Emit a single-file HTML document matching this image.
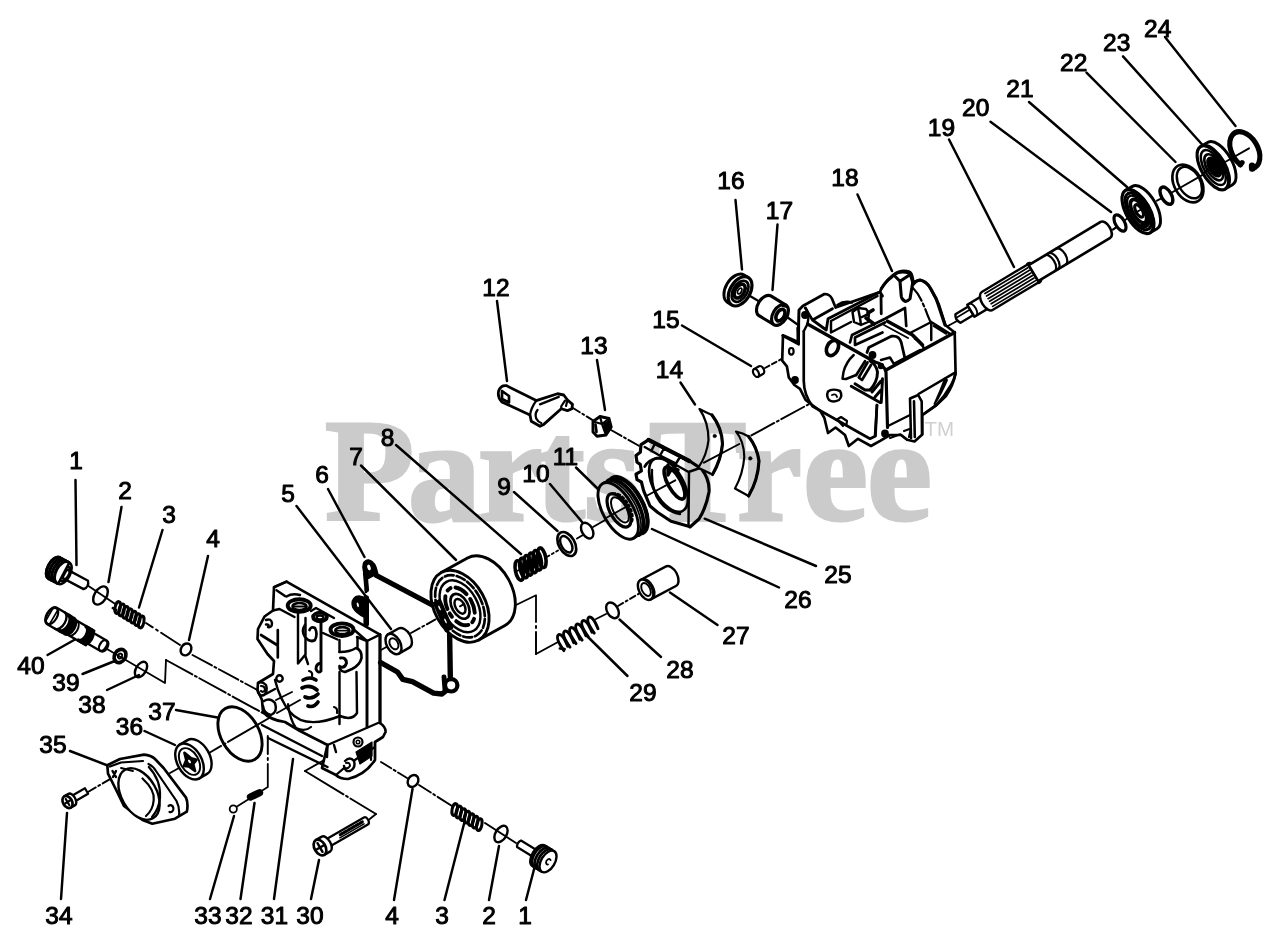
<!DOCTYPE html>
<html><head><meta charset="utf-8"><title>Parts diagram</title>
<style>
html,body{margin:0;padding:0;background:#fff;}
body{width:1280px;height:944px;overflow:hidden;}
svg{display:block;}
.lb{font-family:"Liberation Sans",sans-serif;fill:#000;stroke:#000;stroke-width:1.0px;}
.wm{font-family:"Liberation Serif",serif;font-weight:bold;fill:#cbcbcb;stroke:#cbcbcb;stroke-width:3.2px;stroke-linejoin:miter;}
.tm{font-family:"Liberation Sans",sans-serif;fill:#d0d0d0;}
g.ink *{stroke:#000;stroke-linecap:round;stroke-linejoin:round;}
g.ink text{stroke-linecap:butt;}
</style></head><body>
<svg width="1280" height="944" viewBox="0 0 1280 944">
<rect width="1280" height="944" fill="#fff"/>
<g class="ink">
<text x="76" y="468.9" font-size="24.5" text-anchor="middle" class="lb">1</text>
<text x="125" y="498.9" font-size="24.5" text-anchor="middle" class="lb">2</text>
<text x="169" y="523.4" font-size="24.5" text-anchor="middle" class="lb">3</text>
<text x="213" y="546.9" font-size="24.5" text-anchor="middle" class="lb">4</text>
<text x="288" y="501.9" font-size="24.5" text-anchor="middle" class="lb">5</text>
<text x="322" y="483.4" font-size="24.5" text-anchor="middle" class="lb">6</text>
<text x="356" y="464.9" font-size="24.5" text-anchor="middle" class="lb">7</text>
<text x="387.5" y="445.9" font-size="24.5" text-anchor="middle" class="lb">8</text>
<text x="504" y="494.9" font-size="24.5" text-anchor="middle" class="lb">9</text>
<text x="536" y="481.9" font-size="24.5" text-anchor="middle" class="lb">10</text>
<text x="565.5" y="464.9" font-size="24.5" text-anchor="middle" class="lb">11</text>
<text x="496" y="295.9" font-size="24.5" text-anchor="middle" class="lb">12</text>
<text x="594" y="353.9" font-size="24.5" text-anchor="middle" class="lb">13</text>
<text x="669.5" y="377.9" font-size="24.5" text-anchor="middle" class="lb">14</text>
<text x="666" y="327.9" font-size="24.5" text-anchor="middle" class="lb">15</text>
<text x="731" y="188.9" font-size="24.5" text-anchor="middle" class="lb">16</text>
<text x="779.5" y="218.9" font-size="24.5" text-anchor="middle" class="lb">17</text>
<text x="845" y="186.4" font-size="24.5" text-anchor="middle" class="lb">18</text>
<text x="941.5" y="135.9" font-size="24.5" text-anchor="middle" class="lb">19</text>
<text x="975.7" y="115.9" font-size="24.5" text-anchor="middle" class="lb">20</text>
<text x="1020" y="96.5" font-size="24.5" text-anchor="middle" class="lb">21</text>
<text x="1073.7" y="70.7" font-size="24.5" text-anchor="middle" class="lb">22</text>
<text x="1116.7" y="50.5" font-size="24.5" text-anchor="middle" class="lb">23</text>
<text x="1157.7" y="36.5" font-size="24.5" text-anchor="middle" class="lb">24</text>
<text x="838" y="582.9" font-size="24.5" text-anchor="middle" class="lb">25</text>
<text x="798" y="607.9" font-size="24.5" text-anchor="middle" class="lb">26</text>
<text x="736" y="643.9" font-size="24.5" text-anchor="middle" class="lb">27</text>
<text x="680" y="678.4" font-size="24.5" text-anchor="middle" class="lb">28</text>
<text x="643" y="700.9" font-size="24.5" text-anchor="middle" class="lb">29</text>
<text x="31" y="673.9" font-size="24.5" text-anchor="middle" class="lb">40</text>
<text x="66" y="691.4" font-size="24.5" text-anchor="middle" class="lb">39</text>
<text x="92" y="712.9" font-size="24.5" text-anchor="middle" class="lb">38</text>
<text x="162" y="720.4" font-size="24.5" text-anchor="middle" class="lb">37</text>
<text x="129.5" y="735.4" font-size="24.5" text-anchor="middle" class="lb">36</text>
<text x="53" y="752.9" font-size="24.5" text-anchor="middle" class="lb">35</text>
<text x="59" y="924.4" font-size="24.5" text-anchor="middle" class="lb">34</text>
<text x="208" y="924.4" font-size="24.5" text-anchor="middle" class="lb">33</text>
<text x="239" y="924.4" font-size="24.5" text-anchor="middle" class="lb">32</text>
<text x="274.5" y="924.4" font-size="24.5" text-anchor="middle" class="lb">31</text>
<text x="310" y="924.4" font-size="24.5" text-anchor="middle" class="lb">30</text>
<text x="392" y="924.4" font-size="24.5" text-anchor="middle" class="lb">4</text>
<text x="442" y="924.4" font-size="24.5" text-anchor="middle" class="lb">3</text>
<text x="489" y="924.4" font-size="24.5" text-anchor="middle" class="lb">2</text>
<text x="525" y="924.4" font-size="24.5" text-anchor="middle" class="lb">1</text>
<line x1="75.5" y1="480" x2="76.5" y2="565" stroke-width="2.47" />
<line x1="121.5" y1="507" x2="108.5" y2="582" stroke-width="2.47" />
<line x1="162.5" y1="530" x2="139" y2="607.5" stroke-width="2.47" />
<line x1="208" y1="556" x2="189" y2="640" stroke-width="2.47" />
<line x1="296.5" y1="506" x2="391" y2="629" stroke-width="2.47" />
<line x1="328" y1="489" x2="364.5" y2="557" stroke-width="2.47" />
<line x1="361" y1="465.5" x2="456" y2="560" stroke-width="2.47" />
<line x1="396" y1="445" x2="521" y2="554" stroke-width="2.47" />
<line x1="514" y1="492" x2="557.5" y2="531" stroke-width="2.47" />
<line x1="550" y1="484" x2="582.5" y2="522.5" stroke-width="2.47" />
<line x1="576" y1="467.5" x2="599" y2="490" stroke-width="2.47" />
<line x1="497" y1="301" x2="507" y2="381" stroke-width="2.47" />
<line x1="597" y1="360" x2="605" y2="410" stroke-width="2.47" />
<line x1="680.5" y1="382.5" x2="695" y2="404.5" stroke-width="2.47" />
<line x1="682" y1="325.5" x2="751" y2="366" stroke-width="2.47" />
<line x1="735.5" y1="200" x2="742" y2="269.5" stroke-width="2.47" />
<line x1="777.5" y1="224.5" x2="772.5" y2="290" stroke-width="2.47" />
<line x1="857.5" y1="194.5" x2="892" y2="271" stroke-width="2.47" />
<line x1="949" y1="139.5" x2="1014" y2="267" stroke-width="2.47" />
<line x1="990.5" y1="121.7" x2="1111" y2="212" stroke-width="2.47" />
<line x1="1029" y1="102" x2="1127" y2="187" stroke-width="2.47" />
<line x1="1086.5" y1="72.7" x2="1175.5" y2="162" stroke-width="2.47" />
<line x1="1123" y1="56.4" x2="1203" y2="145.5" stroke-width="2.47" />
<line x1="1165" y1="37" x2="1235.5" y2="126" stroke-width="2.47" />
<line x1="816" y1="566" x2="704.7" y2="518.7" stroke-width="2.47" />
<line x1="779" y1="587.5" x2="652" y2="529" stroke-width="2.47" />
<line x1="717.5" y1="625" x2="670" y2="592.5" stroke-width="2.47" />
<line x1="661" y1="657" x2="619.5" y2="619.5" stroke-width="2.47" />
<line x1="627.5" y1="676" x2="586" y2="635" stroke-width="2.47" />
<line x1="47.5" y1="655" x2="75" y2="639.5" stroke-width="2.47" />
<line x1="82.5" y1="674" x2="116" y2="660.5" stroke-width="2.47" />
<line x1="107" y1="690" x2="139" y2="675" stroke-width="2.47" />
<line x1="176" y1="710" x2="217.5" y2="717.5" stroke-width="2.47" />
<line x1="144.5" y1="731" x2="175" y2="745" stroke-width="2.47" />
<line x1="70" y1="751" x2="109" y2="766" stroke-width="2.47" />
<line x1="67" y1="813" x2="61" y2="899" stroke-width="2.47" />
<line x1="234" y1="816" x2="210" y2="899" stroke-width="2.47" />
<line x1="254.5" y1="803" x2="240.5" y2="899" stroke-width="2.47" />
<line x1="293" y1="759" x2="274" y2="899" stroke-width="2.47" />
<line x1="319" y1="860" x2="311" y2="899" stroke-width="2.47" />
<line x1="412.5" y1="789" x2="394" y2="900" stroke-width="2.47" />
<line x1="465" y1="820" x2="444.5" y2="900" stroke-width="2.47" />
<line x1="499" y1="846" x2="489" y2="900" stroke-width="2.47" />
<line x1="534.5" y1="867.5" x2="526" y2="900" stroke-width="2.47" />
<line x1="87" y1="585" x2="114.5" y2="603.5" stroke-width="1.95" />
<path d="M146 623 L180 645" stroke-width="1.95" fill="none" stroke-dasharray="8 4 2 4 40"/>
<path d="M192.5 655 L262 692.5" stroke-width="1.95" fill="none" stroke-dasharray="22 3 2 3"/>
<path d="M107 649 L165 683 L166 660" stroke-width="1.83" fill="none" />
<path d="M166 660 L270 717" stroke-width="1.95" fill="none" stroke-dasharray="30 3 2 3"/>
<path d="M88 792 L112 778" stroke-width="1.95" fill="none" stroke-dasharray="9 3 2 3"/>
<line x1="170" y1="773" x2="179" y2="768" stroke-width="1.95" />
<path d="M209 753 L300 700" stroke-width="1.95" fill="none" stroke-dasharray="14 3 2 3 60 3 2 3"/>
<path d="M237 806.5 L267.8 787 L267.8 764" stroke-width="1.83" fill="none" />
<path d="M267.8 760 L267.8 736" stroke-width="1.95" fill="none" stroke-dasharray="2 4 20"/>
<path d="M381 762 L407 778" stroke-width="1.95" fill="none" stroke-dasharray="12 3 2 3"/>
<path d="M419 785 L452 806" stroke-width="1.95" fill="none" stroke-dasharray="14 3 2 3 30"/>
<line x1="485" y1="823" x2="516" y2="843" stroke-width="1.95" />
<path d="M366 822 L376 814" stroke-width="1.83" fill="none" />
<path d="M376 814 L305 771" stroke-width="1.95" fill="none" stroke-dasharray="30 3 2 3 60"/>
<line x1="305" y1="771" x2="342" y2="750" stroke-width="1.95" />
<g transform="translate(54 568) rotate(28)">
<path d="M12 -4.8 L36 -4.8 Q40 0 36 4.8 L12 4.8 Z" stroke-width="2.32" fill="#fff" />
<path d="M0 -12 L11 -12 L11 12 L0 12 A6.5 12 0 0 1 0 -12 Z" stroke-width="2.44" fill="#fff" />
<path d="M0.5 -12 A6.5 12 0 0 0 0.5 12" stroke-width="3.17" fill="none" />
<path d="M3.5 -12 A6.5 12 0 0 0 3.5 12" stroke-width="3.17" fill="none" />
<path d="M6.5 -12 A6.5 12 0 0 0 6.5 12" stroke-width="3.17" fill="none" />
<path d="M9.5 -12 A6.5 12 0 0 0 9.5 12" stroke-width="3.17" fill="none" />
<path d="M11 -12 A6.5 12 0 0 1 11 12" stroke-width="2.44" fill="none" />
<path d="M12 -8 A4.5 8 0 0 1 12 8" stroke-width="2.93" fill="none" />
</g>
<ellipse cx="100.5" cy="595.5" rx="6" ry="10" transform="rotate(31.5 100.5 595.5)" stroke-width="2.44" fill="none" />
<g transform="translate(116 606.5) rotate(31.5)">
<path d="M-2 3 L2 3" stroke-width="2.44" fill="none" />
<ellipse cx="2.0" cy="0" rx="2.6" ry="6" stroke-width="3" fill="none" transform="rotate(-20 2.0 0)"/>
<ellipse cx="6.6" cy="0" rx="2.6" ry="6" stroke-width="3" fill="none" transform="rotate(-20 6.6 0)"/>
<ellipse cx="11.2" cy="0" rx="2.6" ry="6" stroke-width="3" fill="none" transform="rotate(-20 11.2 0)"/>
<ellipse cx="15.799999999999999" cy="0" rx="2.6" ry="6" stroke-width="3" fill="none" transform="rotate(-20 15.799999999999999 0)"/>
<ellipse cx="20.4" cy="0" rx="2.6" ry="6" stroke-width="3" fill="none" transform="rotate(-20 20.4 0)"/>
<ellipse cx="25.0" cy="0" rx="2.6" ry="6" stroke-width="3" fill="none" transform="rotate(-20 25.0 0)"/>
<ellipse cx="29.599999999999998" cy="0" rx="2.6" ry="6" stroke-width="3" fill="none" transform="rotate(-20 29.599999999999998 0)"/>
</g>
<ellipse cx="186" cy="649.4" rx="5" ry="6.3" transform="rotate(31.5 186 649.4)" stroke-width="2.44" fill="none" />
<g transform="translate(52 616) rotate(30)">
<path d="M0 -9.5 L16 -9.5 L16 -8.3 L44 -8.3 L44 -6 L60 -6 A3.6 6 0 0 1 60 6 L44 6 L44 8.3 L16 8.3 L16 9.5 L0 9.5 A5.5 9.5 0 0 1 0 -9.5 Z" stroke-width="2.44" fill="#fff" />
<ellipse cx="0" cy="0" rx="5" ry="9" stroke-width="2.2" fill="none" />
<path d="M-3 -7 L-3 7 M2 -8 L2 8" stroke-width="1.71" fill="none" />
<path d="M9 -9.5 A5.5 9.5 0 0 1 9 9.5" stroke-width="2.44" fill="none" />
<path d="M14 -8.8 A5 8.8 0 0 1 14 8.8" stroke-width="3.66" fill="none" />
<path d="M17 -8.8 A5 8.8 0 0 1 17 8.8" stroke-width="3.66" fill="none" />
<path d="M20 -8.8 A5 8.8 0 0 1 20 8.8" stroke-width="3.66" fill="none" />
<path d="M24 -8.3 A5 8.3 0 0 1 24 8.3" stroke-width="1.95" fill="none" />
<path d="M35 -7.8 A4.5 7.8 0 0 1 35 7.8" stroke-width="3.66" fill="none" />
<path d="M38 -7.8 A4.5 7.8 0 0 1 38 7.8" stroke-width="3.66" fill="none" />
<path d="M41 -7.8 A4.5 7.8 0 0 1 41 7.8" stroke-width="3.66" fill="none" />
<ellipse cx="59" cy="0" rx="3.3" ry="5.8" stroke-width="2.2" fill="#fff" />
</g>
<ellipse cx="120" cy="656" rx="5.5" ry="7" transform="rotate(31.5 120 656)" stroke-width="3.66" fill="none" />
<ellipse cx="120" cy="656" rx="2" ry="2.5" transform="rotate(31.5 120 656)" stroke-width="1.83" fill="none" />
<ellipse cx="141" cy="669.5" rx="5" ry="8.5" transform="rotate(31.5 141 669.5)" stroke-width="2.44" fill="none" />
<ellipse cx="240" cy="734" rx="19" ry="29.5" transform="rotate(-30 240 734)" stroke-width="2.93" fill="none" />
<g transform="translate(189.5 761.5) rotate(-30)">
<path d="M0 -19.5 L9 -19.5 A12.09 19.5 0 0 1 9 19.5 L0 19.5 Z" stroke-width="2.44" fill="#fff" />
<ellipse cx="0" cy="0" rx="12.09" ry="19.5" stroke-width="2.44" fill="#fff" />
<ellipse cx="0" cy="0" rx="9" ry="14.5" stroke-width="1.95" fill="none" />
<path d="M0 -10 L3 -2 L7 2 L2 4 L0 11 L-3 4 L-7 1 L-2 -3 Z" stroke-width="2.68" fill="#000" />
<ellipse cx="0" cy="0" rx="2" ry="3" stroke-width="1.83" fill="#fff" />
</g>
<path d="M107.3 765.2 L120 759 L144 754.6 Q151 755 155 759 L163.6 768 L186 797.6 Q188.5 804 186.8 811.7 L175 818.7 L152.3 823.7 L142.5 820 L124 806 L115.7 789 L108 773.7 Z" stroke-width="2.68" fill="#fff" />
<path d="M110 766.5 L121 762.5 L143 761 M148.5 764 Q153 766 156 771 L176.5 801 Q180 808 179 816" stroke-width="2.2" fill="none" />
<ellipse cx="139" cy="794" rx="17.5" ry="28" transform="rotate(-30 139 794)" stroke-width="2.44" fill="#fff" />
<path d="M142.5 778.5 Q155 790 153.7 800 Q153 810 146 816" stroke-width="2.2" fill="none" />
<path d="M148.8 767 Q161 780 160 797.6 Q159 809 152 817" stroke-width="2.2" fill="none" />
<path d="M121 768 L133 771" stroke-width="1.83" fill="none" />
<path d="M168.5 806 A3 3.5 0 1 1 169.5 812" stroke-width="2.2" fill="none" />
<path d="M112.5 771 L116 777 M116 771 L113 777" stroke-width="2.44" fill="none" />
<g transform="translate(67.5 802) rotate(-30)">
<path d="M5 -3.2 L22 -3.2 L22 3.2 L5 3.2 Z" stroke-width="2.2" fill="#fff" />
<path d="M0 -6.5 L5 -6.5 A3.5 6.5 0 0 1 5 6.5 L0 6.5 Z" stroke-width="2.44" fill="#fff" />
<ellipse cx="0" cy="0" rx="4.5" ry="6.5" stroke-width="2.68" fill="#fff" />
<path d="M-2.5 0 L2.5 0 M0 -3.5 L0 3.5" stroke-width="2.2" fill="none" />
</g>
<circle cx="233.3" cy="809" r="3.6" stroke-width="1.8" fill="#fff"/>
<path d="M250.5 797 L259.5 792.7" stroke-width="7.32" fill="none" />
<g transform="translate(320 847.5) rotate(-30)">
<path d="M8 -4 L53 -4 A2.5 4 0 0 1 53 4 L8 4 Z" stroke-width="2.2" fill="#fff" />
<path d="M24 -1 L50 -1" stroke-width="3.05" fill="none" stroke-dasharray="3 1.5"/>
<path d="M22 1.5 L50 1.5" stroke-width="1.46" fill="none" />
<path d="M0 -8.5 L7 -8.5 A4.5 8.5 0 0 1 7 8.5 L0 8.5 Z" stroke-width="2.44" fill="#fff" />
<ellipse cx="0" cy="0" rx="5.5" ry="8.5" stroke-width="2.68" fill="#fff" />
<path d="M-3.5 0 L3.5 0 M0 -5 L0 5" stroke-width="2.44" fill="none" />
</g>
<ellipse cx="413" cy="781" rx="5" ry="6.3" transform="rotate(31.5 413 781)" stroke-width="2.44" fill="none" />
<g transform="translate(453 808.5) rotate(31.5)">
<ellipse cx="2.0" cy="0" rx="2.6" ry="6" stroke-width="3" fill="none" transform="rotate(-20 2.0 0)"/>
<ellipse cx="6.8" cy="0" rx="2.6" ry="6" stroke-width="3" fill="none" transform="rotate(-20 6.8 0)"/>
<ellipse cx="11.6" cy="0" rx="2.6" ry="6" stroke-width="3" fill="none" transform="rotate(-20 11.6 0)"/>
<ellipse cx="16.4" cy="0" rx="2.6" ry="6" stroke-width="3" fill="none" transform="rotate(-20 16.4 0)"/>
<ellipse cx="21.2" cy="0" rx="2.6" ry="6" stroke-width="3" fill="none" transform="rotate(-20 21.2 0)"/>
<ellipse cx="26.0" cy="0" rx="2.6" ry="6" stroke-width="3" fill="none" transform="rotate(-20 26.0 0)"/>
<ellipse cx="30.799999999999997" cy="0" rx="2.6" ry="6" stroke-width="3" fill="none" transform="rotate(-20 30.799999999999997 0)"/>
</g>
<ellipse cx="501" cy="834" rx="5.5" ry="9" transform="rotate(31.5 501 834)" stroke-width="2.44" fill="none" />
<g transform="translate(548 861.5) rotate(31.5)">
<path d="M-34 -3.8 L-12 -3.8 L-12 3.8 L-34 3.8 Q-36.5 0 -34 -3.8 Z" stroke-width="2.2" fill="#fff" />
<path d="M-11 -12 L0 -12 L0 12 L-11 12 A6.5 12 0 0 1 -11 -12 Z" stroke-width="2.44" fill="#fff" />
<path d="M-9 -12 A6.5 12 0 0 0 -9 12" stroke-width="2.68" fill="none" />
<path d="M-6 -12 A6.5 12 0 0 0 -6 12" stroke-width="2.68" fill="none" />
<path d="M-3 -12 A6.5 12 0 0 0 -3 12" stroke-width="2.68" fill="none" />
<ellipse cx="0" cy="0" rx="6.8" ry="12" stroke-width="2.44" fill="#fff" />
<path d="M1.5 -2.5 A2 3 0 1 0 1.5 2.5" stroke-width="1.83" fill="none" />
</g>
<path d="M286.5 581.6 L380 634.6 L380 723 Q386 727 385.5 732 L383 737 L375 742 L375 760 Q365 775 348 779 Q340 779 336 775 L322 768 L327.5 745 L300 731 L285 722 Q270 720 263 712 L262 700 L257.5 690 L258 683 L273 674 L274 661 L267.5 654 L257.5 639 L258 629 L264.5 616.5 L273 610.5 L274 587.2 Z" stroke-width="2.68" fill="#fff" />
<path d="M274 587.2 L286.5 581.6 M276.5 590.3 L285 596 M273 610.5 L279.5 609 L294.5 617 M286.5 596.5 Q292 593 300 595" stroke-width="2.44" fill="none" />
<path d="M311 611 L316 608 L334 618 M323 633 L337.5 639.5 M352 628 L367 641 L380 634.6 M357 637 L367 641" stroke-width="2.44" fill="none" />
<ellipse cx="299.2" cy="605.6" rx="11.5" ry="6.3" stroke-width="3.9" fill="#fff" />
<ellipse cx="299.5" cy="606.5" rx="7" ry="3.5" stroke-width="2.68" fill="none" />
<path d="M294 606.5 L305 606.5" stroke-width="1.83" fill="none" />
<ellipse cx="320" cy="617" rx="7" ry="4.3" stroke-width="3.66" fill="#fff" />
<ellipse cx="320" cy="617.5" rx="3.5" ry="2" stroke-width="2.44" fill="none" />
<ellipse cx="342" cy="629.7" rx="11.5" ry="6.3" stroke-width="3.9" fill="#fff" />
<ellipse cx="342.3" cy="630.6" rx="7" ry="3.5" stroke-width="2.68" fill="none" />
<path d="M337 630.6 L348 630.6" stroke-width="1.83" fill="none" />
<path d="M298 613 L298 663.5 L305 655 L308 664 M305.5 618 L305.5 655" stroke-width="2.44" fill="none" />
<path d="M321 621.5 L321 671 Q318 674 316 669 Q316 664 320.5 663" stroke-width="2.93" fill="none" />
<path d="M339.5 640 L339.5 652 M339.5 672 L339.5 724 M357.5 637.5 L357.5 651 M356.5 672 L357 713 Q352 721 340 716" stroke-width="2.44" fill="none" />
<path d="M367 641 L367 727 M380 634.6 L380 723" stroke-width="2.93" fill="none" />
<path d="M305 625 Q301 631 305 637 Q310 643 315 640 Q318 634 315 628 Q311 626 309.5 630" stroke-width="2.68" fill="none" />
<path d="M339.5 652 Q350 652 356 648 Q362 650 361.5 658 Q360 665 352 669 L345 672 Q339 671 339.5 666" stroke-width="2.68" fill="#fff" />
<path d="M340.5 658 Q346 657 346.5 663 Q345 668 340.5 667" stroke-width="2.93" fill="none" />
<path d="M277.8 630 L277.8 657.5 M261 635 L277.8 645.5" stroke-width="2.68" fill="none" />
<path d="M266 620 Q271 618 272 623 Q272 628 268 627 M266 624.5 Q269.5 624 268.5 627" stroke-width="2.44" fill="none" />
<path d="M258 683 Q262 681 266 685 Q268 691 264 695 L275 689 M264 695 Q258 697 257.5 690" stroke-width="2.44" fill="none" />
<path d="M261 686 Q265 686 265 690 Q263 693 261 691" stroke-width="2.2" fill="none" />
<circle cx="279.5" cy="678.5" r="3.2" stroke-width="2.4" fill="none"/>
<path d="M264 701 Q270 697 275 703 Q278 712 271 715 Q264 714 263 706" stroke-width="2.44" fill="none" />
<path d="M276 700 L292 692 M277 713 L300 700" stroke-width="1.95" fill="none" />
<path d="M303 680 Q310 676 316 680 M302 688 Q310 684 317 690 M305 697 Q312 700 318 694 M308 706 Q314 708 318 702" stroke-width="3.66" fill="none" />
<path d="M309 671 Q313 672 312 676 M334 707 Q338 708 337 713" stroke-width="2.2" fill="none" />
<path d="M275 680 Q280 700 290 712 Q305 730 340 716" stroke-width="2.44" fill="none" />
<path d="M288 704 Q290 720 296 728 Q305 732 311 727" stroke-width="2.2" fill="none" />
<path d="M262 725 L322 756 M268 738 L327.5 767" stroke-width="2.44" fill="none" />
<path d="M327.5 745 L378 723 M327.5 745 L327 757 M336 752 L334 745" stroke-width="2.44" fill="none" />
<path d="M336 775 Q350 762 375 747" stroke-width="2.2" fill="none" />
<circle cx="358" cy="742" r="4.5" stroke-width="2.2" fill="#fff"/>
<circle cx="358" cy="742" r="1.8" stroke-width="1.5" fill="none"/>
<path d="M345 761 Q350 756 354 761 Q356 768 350 771 Q345 772 344 766" stroke-width="2.44" fill="#fff" />
<path d="M346 763 Q350 762 350 766 Q348 769 346 768" stroke-width="1.95" fill="none" />
<path d="M356 752 L372 742 L372 756 L360 764 Z" stroke-width="1.22" fill="#000" />
<path d="M375 742 L375 758 M371 745 L371 760" stroke-width="2.2" fill="none" />
<path d="M381 650 L389 645.5" stroke-width="1.95" fill="none" stroke-dasharray="20"/>
<path d="M411 633 L440 617" stroke-width="1.95" fill="none" stroke-dasharray="10 3 2 3"/>
<path d="M515 572 L519 570" stroke-width="1.95" fill="none" stroke-dasharray="20"/>
<path d="M545 558 L558 550.5" stroke-width="1.95" fill="none" stroke-dasharray="5 3 2 3"/>
<path d="M577 538.5 L583 535" stroke-width="1.95" fill="none" stroke-dasharray="20"/>
<line x1="593" y1="527" x2="620" y2="511.5" stroke-width="1.95" />
<path d="M515 605.5 L536 595.3 L536 622" stroke-width="1.83" fill="none" />
<path d="M536 626 L536 654" stroke-width="1.95" fill="none" stroke-dasharray="2 4 30"/>
<line x1="536" y1="654" x2="558" y2="642" stroke-width="1.95" />
<line x1="596" y1="619" x2="606" y2="614" stroke-width="1.95" />
<path d="M618 606 L640 593" stroke-width="1.95" fill="none" stroke-dasharray="6 3 2 3"/>
<path d="M376.5 575.5 L436 607" stroke-width="5.37" fill="none" />
<path d="M365.2 573 L366.8 590" stroke-width="4.64" fill="none" />
<path d="M366 589 L366 592" stroke-width="2.68" fill="none" />
<path d="M364.6 571 Q362.5 561.5 368.5 561 Q374.5 562.5 376.5 573 L367 578 Z" stroke-width="3.66" fill="#000" />
<ellipse cx="369" cy="567.5" rx="2.3" ry="3.6" stroke-width="1.22" fill="#fff" transform="rotate(-20 369 567.5)"/>
<path d="M439 606 L444 621 L449.6 632 L450.3 676" stroke-width="5.37" fill="none" />
<path d="M380.6 662.5 L397.5 672 L402.8 679.4 L412.4 681.6 L433.6 693.2 L442 694 L447 690" stroke-width="5.37" fill="none" />
<circle cx="451.2" cy="685.3" r="6.2" stroke-width="4.2" fill="#fff"/>
<path d="M444 677 L445 690" stroke-width="4.88" fill="none" />
<path d="M366.2 598 L366.2 624" stroke-width="5.61" fill="none" />
<path d="M366 600 Q361 595.5 356 597.5 Q351.5 600.5 353.5 607 Q357 613 364 616 Z" stroke-width="3.05" fill="#000" />
<ellipse cx="357.8" cy="604.8" rx="1.6" ry="3" stroke-width="1.22" fill="#fff" transform="rotate(-15 357.8 604.8)"/>
<g transform="translate(393.5 644) rotate(-29.5)">
<path d="M0 -11 L12 -11 A6.82 11 0 0 1 12 11 L0 11 Z" stroke-width="2.44" fill="#fff" />
<ellipse cx="0" cy="0" rx="6.82" ry="11" stroke-width="2.44" fill="#fff" />
<ellipse cx="0.5" cy="0" rx="4" ry="6" stroke-width="1.95" fill="none" />
</g>
<g transform="translate(460 606.3) rotate(-29)">
<path d="M0 -38.6 L30 -38.6 A25.476000000000003 38.6 0 0 1 30 38.6 L0 38.6 Z" stroke-width="2.93" fill="#fff" />
<ellipse cx="0" cy="0" rx="25.476000000000003" ry="38.6" stroke-width="2.93" fill="#fff" />
<ellipse cx="0" cy="0" rx="21.5" ry="33.5" stroke-width="2.68" fill="none" stroke-dasharray="9 3"/>
<ellipse cx="0" cy="0" rx="17.5" ry="28" stroke-width="2.44" fill="none" />
<ellipse cx="0" cy="0" rx="12.5" ry="20.5" stroke-width="3.9" fill="none" stroke-dasharray="13 6 4 5"/>
<ellipse cx="0" cy="0" rx="8" ry="13.5" stroke-width="2.68" fill="none" />
<ellipse cx="0" cy="0" rx="4.5" ry="8" stroke-width="2.44" fill="none" />
<path d="M0 0 L5 0" stroke-width="1.95" fill="none" />
</g>
<path d="M434 603 L440 600 L452 628 L446 631 Z" stroke-width="2.44" fill="#000" />
<ellipse cx="439.5" cy="608" rx="1.4" ry="3.2" stroke-width="1.22" fill="#fff" transform="rotate(-25 439.5 608)"/>
<ellipse cx="445.5" cy="621" rx="1.4" ry="3.2" stroke-width="1.22" fill="#fff" transform="rotate(-25 445.5 621)"/>
<g transform="translate(517.5 571.5) rotate(-29.5)">
<ellipse cx="2.0" cy="0" rx="3.8" ry="10" stroke-width="3.6" fill="none" transform="rotate(18 2.0 0)"/>
<ellipse cx="7.2" cy="0" rx="3.8" ry="10" stroke-width="3.6" fill="none" transform="rotate(18 7.2 0)"/>
<ellipse cx="12.4" cy="0" rx="3.8" ry="10" stroke-width="3.6" fill="none" transform="rotate(18 12.4 0)"/>
<ellipse cx="17.6" cy="0" rx="3.8" ry="10" stroke-width="3.6" fill="none" transform="rotate(18 17.6 0)"/>
<ellipse cx="22.8" cy="0" rx="3.8" ry="10" stroke-width="3.6" fill="none" transform="rotate(18 22.8 0)"/>
<ellipse cx="28.0" cy="0" rx="3.8" ry="10" stroke-width="3.6" fill="none" transform="rotate(18 28.0 0)"/>
</g>
<ellipse cx="566.8" cy="544" rx="8" ry="13" transform="rotate(-29.5 566.8 544)" stroke-width="2.68" fill="#fff" />
<ellipse cx="566.3" cy="544.3" rx="5" ry="9" transform="rotate(-29.5 566.3 544.3)" stroke-width="2.44" fill="none" />
<ellipse cx="587.2" cy="530.6" rx="5.3" ry="8.5" transform="rotate(-29.5 587.2 530.6)" stroke-width="2.44" fill="none" />
<g transform="translate(618.2 510.8) rotate(-29.5)">
<path d="M0 -31.4 L11 -31.4 A15 31.4 0 0 1 11 31.4 L0 31.4 Z" stroke-width="2.44" fill="#fff" />
<path d="M6 -31.4 A15 31.4 0 0 1 6 31.4" stroke-width="3.66" fill="none" />
<path d="M10.5 -31.4 A15 31.4 0 0 1 10.5 31.4" stroke-width="4.27" fill="none" />
<path d="M3 -31.4 A15 31.4 0 0 1 3 31.4" stroke-width="1.71" fill="none" />
<ellipse cx="0" cy="0" rx="15" ry="31.4" stroke-width="2.93" fill="#fff" />
<ellipse cx="1" cy="0" rx="9" ry="18.5" stroke-width="3.17" fill="none" />
<ellipse cx="2" cy="0" rx="6.5" ry="14" stroke-width="1.95" fill="none" />
<path d="M4 -17 A8 17 0 0 1 4 17" stroke-width="2.44" fill="none" stroke-dasharray="2 3"/>
</g>
<line x1="606" y1="518" x2="625" y2="507.5" stroke-width="1.95" />
<g transform="translate(559.5 644) rotate(-30)">
<path d="M-2 4 L2 7" stroke-width="2.44" fill="none" />
<path d="M0.5 8 Q-1 -8 4 -8.5 Q8 -8 6 6" stroke-width="2.93" fill="none" />
<path d="M7.5 8 Q6 -8 11 -8.5 Q15 -8 13 6" stroke-width="2.93" fill="none" />
<path d="M14.5 8 Q13 -8 18 -8.5 Q22 -8 20 6" stroke-width="2.93" fill="none" />
<path d="M21.5 8 Q20 -8 25 -8.5 Q29 -8 27 6" stroke-width="2.93" fill="none" />
<path d="M28.5 8 Q27 -8 32 -8.5 Q36 -8 34 6" stroke-width="2.93" fill="none" />
<path d="M35.5 8 Q34 -8 39 -8.5 Q43 -8 41 6" stroke-width="2.93" fill="none" />
</g>
<ellipse cx="612.5" cy="610.3" rx="5.5" ry="8.5" transform="rotate(-30 612.5 610.3)" stroke-width="2.44" fill="none" />
<g transform="translate(645.6 589.7) rotate(-28)">
<path d="M0 -11 L28.5 -11 A6.6 11 0 0 1 28.5 11 L0 11 Z" stroke-width="2.44" fill="#fff" />
<ellipse cx="0" cy="0" rx="6.6" ry="11" stroke-width="2.44" fill="#fff" />
<ellipse cx="0.5" cy="0" rx="4" ry="7" stroke-width="1.95" fill="none" />
<path d="M3.5 -10.5 A6.5 11 0 0 1 3.5 10.5" stroke-width="1.59" fill="none" />
</g>
<path d="M641 444.7 L648.5 439.8 L689.6 461 L701.5 468.8 Q710 480 709 492 Q706 508 699 519 L690 527 L688.5 526.2 L671 521.3 L657.8 512.5 L650 506 L643.6 490.6 L641.4 482 L637 479.7 L636 474.2 L641.4 471 L640.3 464.4 L637 462.2 L636 455.6 L640.3 452.3 Z" stroke-width="3.17" fill="#fff" />
<path d="M648.5 439.8 L689.6 461" stroke-width="4.15" fill="none" />
<path d="M644.7 447 L688.5 472 L700 468 M689 472 L688.5 526" stroke-width="2.44" fill="none" />
<path d="M655 443.5 L651.5 450.5 M664 448.5 L660 455.5 M664 448.5 L675 454 L689 462 M660 455.5 L676 463.5 L680 457" stroke-width="2.44" fill="none" />
<path d="M644.7 466.6 Q648 460 657 458 Q668 458 676 466" stroke-width="2.68" fill="none" />
<ellipse cx="668.5" cy="485" rx="15" ry="29.5" transform="rotate(-29 668.5 485)" stroke-width="2.68" fill="none" />
<path d="M652 470 Q651 490 660 502 Q668 512 680 514" stroke-width="2.44" fill="none" />
<ellipse cx="674.5" cy="483" rx="6.5" ry="18" transform="rotate(-29 674.5 483)" stroke-width="3.66" fill="none" />
<path d="M668 465 L668 475 Q672 466 678 470" stroke-width="3.42" fill="none" />
<line x1="646.3" y1="496" x2="675.3" y2="480.3" stroke-width="1.95" />
<path d="M699.5 409 Q705 412 712 415 Q722 428 722.5 444 Q721 460 712.5 474.5 L698.3 467.7 Q707 455 708.5 440 Q708.5 422 699.5 409 Z" stroke-width="2.2" fill="#fff" />
<path d="M712 415 Q722 428 722.5 444 Q721 460 712.5 474.5" stroke-width="3.17" fill="none" />
<circle cx="714.7" cy="436" r="1.8" fill="#000" stroke-width="0.5"/>
<path d="M736 431.6 Q743 433 748.6 436.5 Q757 447 759 461 Q758 480 748.6 496 L735 488.5 Q743 474 744.3 457 Q744 441 736 431.6 Z" stroke-width="2.2" fill="#fff" />
<path d="M748.6 436.5 Q757 447 759 461 Q758 480 748.6 496" stroke-width="3.17" fill="none" />
<circle cx="750.3" cy="458.4" r="1.8" fill="#000" stroke-width="0.5"/>
<line x1="704" y1="462.7" x2="739.3" y2="444" stroke-width="1.95" />
<path d="M751.4 435.4 L822 397" stroke-width="1.95" fill="none" stroke-dasharray="26 3 2 3"/>
<path d="M506.25 385.6 L536.25 400.6 L557.5 393.75 L563.75 395 L567.5 400 L572.5 404.4 L571.9 408.75 L567.5 410.6 L561.25 408.75 L543.75 424.4 L540 426.25 L531.25 421.25 L530 415 L501.9 401.9 Q497 397 498.75 390.5 Q501 385 506.25 385.6 Z" stroke-width="2.81" fill="#fff" />
<path d="M536.25 400.6 Q531 408 530 415 M537.5 410 Q534.5 414 536.25 418.5 Q538 422 541.25 423 M540 404.4 L558.75 396.9" stroke-width="2.32" fill="none" />
<path d="M502 391 L502 399 L509 402.5 L509 396 Z" stroke-width="2.68" fill="none" />
<path d="M565 400.6 L561.25 406.25 L561.25 408.75 M567.5 400 L566 406" stroke-width="2.2" fill="none" />
<path d="M593 421.5 L600 416.5 L609 418.5 L611.25 427 L606 435 L597 436.25 L593 432 Z" stroke-width="2.93" fill="#fff" />
<path d="M600 416.5 L602 424 L606 435 M593 421.5 L602 424 L609 418.5" stroke-width="2.2" fill="none" />
<path d="M604 424 L609 421 L610 428 L606 433 Z" stroke-width="1.83" fill="#000" />
<path d="M595.5 424.5 L596.5 432" stroke-width="2.68" fill="none" />
<path d="M573 408 L594 421" stroke-width="1.95" fill="none" stroke-dasharray="8 3 2 3"/>
<path d="M611 430 L641 447" stroke-width="1.95" fill="none" stroke-dasharray="12 3 2 3"/>
<path d="M765 368 L800 349" stroke-width="1.95" fill="none" stroke-dasharray="5 3 5 3"/>
<line x1="750" y1="296" x2="758.5" y2="301" stroke-width="2.21" />
<line x1="787" y1="317" x2="797.5" y2="324.5" stroke-width="2.21" />
<path d="M822 397 L878 366" stroke-width="1.95" fill="none" stroke-dasharray="30 3 2 3"/>
<line x1="935" y1="333" x2="957" y2="321" stroke-width="1.95" />
<path d="M799 310 L802.8 306 L824.4 294 Q830 294 832 298.8 L835.6 307.5 L880 291.9 L881.25 288.75 Q888 278 895 274 Q901 270.5 909.7 273.4 L912.5 282 L920 280 Q927 282 931 289.4 L938.8 304.4 L945.3 325 L954.7 332.5 L955.6 373.8 Q953 386 946 396 L936 405.4 L922.3 415 L922.3 434.5 L914.5 441.5 L907.2 439.8 L901 435 L890 435 L880.6 440.6 L871 446 L858 438.8 L848.8 446 L845 435 L835.6 427.5 L828 433 L824.4 418 L820.6 411.3 L805.6 400 L800 388.8 L794.4 385 L788.8 377.5 L786.9 366.3 L782.2 360.6 L783 335.3 L798 342 Z" stroke-width="2.68" fill="#fff" />
<path d="M807.5 324 L875 362 Q884 364 886 372 L887.5 427.5" stroke-width="3.17" fill="none" />
<path d="M803.75 331.25 L803.75 381 Q804 395 812.5 406.25 L858 432 L870 438.75 L875 436.25 L877 405" stroke-width="2.68" fill="none" />
<path d="M799 310 L798.75 344.4 M782.5 335.6 L798.75 344.4 M797.5 328 L798 343 M805 308 Q810 313 807.5 324 L803.75 331.25" stroke-width="2.44" fill="none" />
<circle cx="805" cy="315" r="2.6" stroke-width="2.6" fill="#000"/>
<circle cx="872.5" cy="355" r="2.6" stroke-width="2.6" fill="#000"/>
<circle cx="881" cy="366" r="2.2" stroke-width="2" fill="#000"/>
<circle cx="885" cy="433.5" r="2.6" stroke-width="2.6" fill="#000"/>
<circle cx="795" cy="380" r="2.6" stroke-width="2.6" fill="#000"/>
<ellipse cx="791.3" cy="351.3" rx="2.3" ry="3.3" stroke-width="2.2" fill="none" />
<ellipse cx="832.5" cy="348" rx="5.5" ry="8" stroke-width="3.66" fill="none" transform="rotate(28 832.5 348)"/>
<path d="M828 391.5 Q832 388 840 391 Q843 396 839 400 Q833 403 829 400 Q826 396 828 391.5 Z" stroke-width="2.44" fill="none" />
<path d="M832 395 Q836 393 837 397" stroke-width="1.83" fill="none" />
<path d="M836.25 420 L841 417 L847 421 L846.25 425.5 M839 421.5 L843 426" stroke-width="2.2" fill="none" />
<path d="M853.75 355 Q846 362 843.5 372 L842.5 378.75 L846 379 L856.25 375" stroke-width="2.44" fill="none" />
<path d="M865 361.25 L856.25 375 M867.5 362.5 L858.75 377.5 L862 380 L871 365" stroke-width="2.68" fill="none" />
<path d="M870 361 Q876 364 877.5 372 Q877.5 382 870 390" stroke-width="2.93" fill="none" />
<path d="M851.25 386.25 L880 402.5 M855 383.75 L865 390 L870 390 M882.5 378.75 L881.25 402.5 M872 392 L881 381 M875 397 L881 390" stroke-width="2.93" fill="none" />
<path d="M876.9 405 L875.5 436" stroke-width="2.68" fill="none" />
<path d="M805.6 308 Q808 313 812.5 320 L832.5 308.75 M812.5 320 L826.25 330 L828 318.75 L880 291.9 L882.5 296 M881 295 L881.25 313.75" stroke-width="2.81" fill="none" />
<path d="M831 321 L877.5 296 M831 321 L831 332.5 L851 322" stroke-width="2.44" fill="none" />
<path d="M837.5 305 Q844 300.5 852 302.5" stroke-width="2.68" fill="none" />
<path d="M850 342.5 L852 335 L885 318.75 L905 308 L906.25 326 M855 337.5 L885 322.5 M855 337.5 L855 345 L882.5 332.5" stroke-width="2.68" fill="none" />
<path d="M852.5 312 L858 308 L866 309 L869 313 L868 322 L861 325 L854 322 Z M858 308 L860 318 L861 325 M860 318 L868 314" stroke-width="2.44" fill="none" />
<path d="M866 318 L874 324 M868 313 L873 310" stroke-width="3.66" fill="none" />
<path d="M867 352.5 L868.75 347.5 L891.25 336.25 Q899 335 901.25 342.5 L905 358.75" stroke-width="2.81" fill="none" />
<path d="M881 360 L890 357.5 L893.75 363.75 L920 350" stroke-width="2.44" fill="none" />
<path d="M910 333 L931.25 322 L931.25 340 M931.25 322 L950 333.75 M934 326 L946 333.5" stroke-width="2.44" fill="none" />
<path d="M887.5 321.25 L912.5 335 L922.5 345" stroke-width="3.66" fill="none" />
<path d="M915 338.75 Q921 342 923.75 348" stroke-width="2.44" fill="none" />
<path d="M884 325 L908 338" stroke-width="1.95" fill="none" />
<path d="M881.25 288.75 Q886 281 891.25 277.5 Q896 272 901.25 271.25 Q909 270.5 911.25 273.75 Q913.5 279 912.5 283.75 L910 298.75 Q907 302 905 301.25 Q902 300 901.25 296.25 L900 281.25 L895 276.25 M900 281.25 L911 274" stroke-width="3.05" fill="none" />
<path d="M912.5 285 Q916 280.5 920 280 Q926 281 930 287.5 L936.25 298.75 L945 325" stroke-width="3.17" fill="none" />
<path d="M912.5 287.5 Q918 293 921.25 300 Q925 308 927.5 315 L931.25 323.75" stroke-width="2.2" fill="none" stroke-dasharray="16 3 3 3"/>
<path d="M886 370 L954.7 332.5" stroke-width="3.17" fill="none" />
<path d="M955.4 372.3 L918.5 394 M921.7 401.3 L922 434.5 M910 398.5 L918.2 395 L921.7 401.3 M910 398.5 L911 438 M914 401.3 L914.8 437" stroke-width="2.56" fill="none" />
<path d="M955.4 373.7 Q954 380 951.3 384.7 Q945 396 936 405.4 L922.5 415" stroke-width="2.68" fill="none" />
<path d="M945 378.5 Q940 392 934.5 404 Q941 394 947 380 Z" stroke-width="1.95" fill="#000" />
<path d="M888 426 L910 415 M890 438 L900.3 434.3 L907.2 439.8 M904 431 L911 428.5 L909 437" stroke-width="2.2" fill="none" />
<g transform="translate(740.1 291.3) rotate(31)">
<path d="M0 -16 L-5 -16 A10 16 0 0 0 -5 16 L0 16 Z" stroke-width="2.93" fill="#fff" />
<ellipse cx="0" cy="0" rx="10" ry="16" stroke-width="3.17" fill="#fff" />
<ellipse cx="0" cy="0" rx="7" ry="11.5" stroke-width="2.68" fill="none" />
<ellipse cx="-0.5" cy="0" rx="4.6" ry="7.6" stroke-width="3.66" fill="none" />
<ellipse cx="-0.5" cy="0" rx="1.8" ry="3.2" stroke-width="1.83" fill="#fff" />
<path d="M-2.5 -15.6 A10 16 0 0 0 -2.5 15.6" stroke-width="1.71" fill="none" />
</g>
<g transform="translate(780 314.9) rotate(31)">
<path d="M0 -11.5 L-17.6 -11.5 A7.015 11.5 0 0 0 -17.6 11.5 L0 11.5 Z" stroke-width="3.17" fill="#fff" />
<ellipse cx="0" cy="0" rx="7.015" ry="11.5" stroke-width="3.17" fill="#fff" />
<ellipse cx="0.5" cy="0" rx="3.8" ry="6.3" stroke-width="3.66" fill="none" />
<path d="M-2.5 -9 L2 -10.5" stroke-width="2.2" fill="none" />
</g>
<g transform="translate(756 373) rotate(-30)">
<path d="M0 -4.3 L6 -4.3 A2.5799999999999996 4.3 0 0 1 6 4.3 L0 4.3 Z" stroke-width="2.2" fill="#fff" />
<ellipse cx="0" cy="0" rx="2.5799999999999996" ry="4.3" stroke-width="2.2" fill="#fff" />
</g>
<g transform="translate(958 318.5) rotate(-31)">
<path d="M0 -5 L15 -5 L15 5 L0 5 Q-3.5 0 0 -5 Z" stroke-width="2.44" fill="#fff" />
<path d="M0 -1.5 L15 -1.5" stroke-width="1.59" fill="none" />
<path d="M15 -7 L34 -7 L34 7 L15 7 Z" stroke-width="2.44" fill="#fff" />
<path d="M17 -7 A3.5 7 0 0 1 17 7" stroke-width="1.95" fill="none" />
<path d="M34 -10.5 L88 -10.5 L88 10.5 L34 10.5 A5.5 10.5 0 0 1 34 -10.5 Z" stroke-width="2.44" fill="#fff" />
<path d="M36 -7.5 L86 -7.5" stroke-width="1.71" fill="none" />
<path d="M36 -4.5 L86 -4.5" stroke-width="1.71" fill="none" />
<path d="M36 -1.5 L86 -1.5" stroke-width="1.71" fill="none" />
<path d="M36 1.5 L86 1.5" stroke-width="1.71" fill="none" />
<path d="M36 4.5 L86 4.5" stroke-width="1.71" fill="none" />
<path d="M36 7.5 L86 7.5" stroke-width="1.71" fill="none" />
<path d="M88 -10.5 A5.5 10.5 0 0 1 88 10.5" stroke-width="3.9" fill="none" />
<path d="M88 -9.3 L172 -9.3 A5 9.3 0 0 1 172 9.3 L88 9.3 Z" stroke-width="2.68" fill="#fff" />
<path d="M107 -9.3 A5 9.3 0 0 1 107 9.3 M111 -9.3 A5 9.3 0 0 1 111 9.3 M120 -9.3 A5 9.3 0 0 1 120 9.3" stroke-width="2.2" fill="none" />
</g>
<line x1="1113" y1="229.5" x2="1116" y2="227.5" stroke-width="1.95" />
<line x1="1113" y1="229.5" x2="1116" y2="227.5" stroke-width="1.95" />
<ellipse cx="1120" cy="223" rx="4.6" ry="9" transform="rotate(-30 1120 223)" stroke-width="3.17" fill="none" />
<line x1="1125" y1="220" x2="1140" y2="211" stroke-width="1.95" />
<g transform="translate(1137.8 211.6) rotate(-30)">
<path d="M0 -24.5 L8 -24.5 A11.5 24.5 0 0 1 8 24.5 L0 24.5 Z" stroke-width="2.93" fill="#fff" />
<ellipse cx="0" cy="0" rx="11.5" ry="24.5" stroke-width="3.17" fill="#fff" />
<path d="M3.5 -24 A11.5 24.5 0 0 1 3.5 24" stroke-width="1.71" fill="none" />
<ellipse cx="0.5" cy="0" rx="9.5" ry="20.5" stroke-width="3.17" fill="none" stroke-dasharray="3 2.2"/>
<ellipse cx="0.5" cy="0" rx="8" ry="17.5" stroke-width="2.44" fill="none" />
<ellipse cx="1" cy="0" rx="6" ry="13" stroke-width="3.66" fill="none" />
<ellipse cx="1.5" cy="0" rx="3.2" ry="7" stroke-width="3.17" fill="#fff" />
<path d="M-2 14 A6 13 0 0 0 5 10" stroke-width="4.88" fill="none" />
</g>
<line x1="1130" y1="216" x2="1141" y2="209.5" stroke-width="1.95" />
<line x1="1157" y1="200.7" x2="1162" y2="198" stroke-width="1.95" />
<ellipse cx="1166.4" cy="195.7" rx="5" ry="9.5" transform="rotate(-30 1166.4 195.7)" stroke-width="3.42" fill="none" />
<line x1="1171" y1="193" x2="1214" y2="168.3" stroke-width="1.95" />
<ellipse cx="1187.9" cy="183.5" rx="13.6" ry="20.3" transform="rotate(-30 1187.9 183.5)" stroke-width="2.68" fill="none" />
<ellipse cx="1189.4" cy="182.6" rx="10.8" ry="17" transform="rotate(-30 1189.4 182.6)" stroke-width="2.44" fill="none" />
<g transform="translate(1212.9 167.8) rotate(-30)">
<path d="M0 -24.5 L8.5 -24.5 A11.5 24.5 0 0 1 8.5 24.5 L0 24.5 Z" stroke-width="2.93" fill="#fff" />
<ellipse cx="0" cy="0" rx="11.5" ry="24.5" stroke-width="3.17" fill="#fff" />
<path d="M4 -24 A11.5 24.5 0 0 1 4 24" stroke-width="1.71" fill="none" />
<ellipse cx="0.5" cy="0" rx="9" ry="19.5" stroke-width="2.44" fill="none" />
<ellipse cx="1" cy="0" rx="7" ry="14.5" stroke-width="2.68" fill="none" />
<ellipse cx="1.5" cy="0" rx="5" ry="10" stroke-width="2.93" fill="none" />
<ellipse cx="2" cy="0" rx="3" ry="6.5" stroke-width="4.88" fill="#000" />
</g>
<line x1="1203" y1="173.5" x2="1219" y2="164.2" stroke-width="1.95" />
<g transform="translate(1244.8 150.3) rotate(-30)">
<path d="M-11.1 10.3 A13 20 0 1 1 -2.8 19.5" stroke-width="5.12" fill="none" />
<path d="M-2.8 19.5 L-1.5 17" stroke-width="6.34" fill="none" />
<path d="M-11.1 10.3 L-8.5 9.3" stroke-width="5.12" fill="none" />
</g>
<line x1="1226" y1="161.5" x2="1249" y2="148.3" stroke-width="1.95" />
</g>
<g style="mix-blend-mode:multiply">
<text y="520" font-size="146" class="wm" x="325 408 478 536 584 649 737 803 867">PartsTree</text>
<text x="924.5" y="436.3" font-size="20.5" class="tm">TM</text>
</g>
</svg>
</body></html>
